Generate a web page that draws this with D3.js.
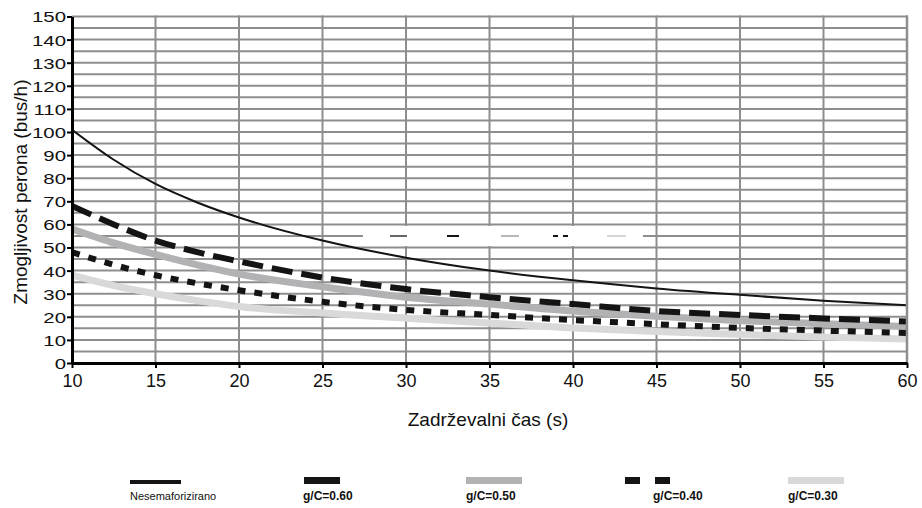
<!DOCTYPE html>
<html>
<head>
<meta charset="utf-8">
<script src="https://cdn.jsdelivr.net/npm/d3@7/dist/d3.min.js"></script>
<style>
  html, body { margin: 0; padding: 0; background: #fff; }
  svg { display: block; font-family: "Liberation Sans", Arial, sans-serif; }
</style>
</head>
<body>
<svg id="chart" width="922" height="508"></svg>
<script>
// Dwell time (s) at which capacities were read
const dwellTimes = [10, 12.5, 15, 17.5, 20, 25, 30, 35, 40, 45, 50, 55, 60];

// Bus stop capacity (bus/h) per series
const unsignalised = [101, 88, 77.5, 69.5, 63, 53, 45.6, 40, 35.8, 32.3, 29.5, 27, 25];
const gc060 = [68, 60, 53, 48, 44, 37, 32, 28.5, 25.5, 22.5, 20.8, 19.3, 18];
const gc050 = [58, 52, 47, 42.5, 38.5, 33, 28.5, 25.5, 22.5, 20.2, 18.3, 17, 15.8];
const gc040 = [48, 42.5, 38, 34.5, 31.5, 26.5, 23, 20.8, 18.6, 16.8, 15.2, 14, 13];
const gc030 = [38, 33.5, 30, 27, 24.5, 21.6, 19.4, 17.3, 15.2, 13.6, 12.3, 11.3, 10.4];

const seriesNames = ["Nesemaforizirano", "g/C=0.60", "g/C=0.50", "g/C=0.40", "g/C=0.30"];

const xTicks = [10, 15, 20, 25, 30, 35, 40, 45, 50, 55, 60];
const yTicks = [0, 10, 20, 30, 40, 50, 60, 70, 80, 90, 100, 110, 120, 130, 140, 150];

const series = [
  { name: seriesNames[4], values: gc030, color: "#d9d9da", width: 7, dash: null, legendDash: null, bold: true },
  { name: seriesNames[2], values: gc050, color: "#b2b2b4", width: 7, dash: null, legendDash: null, bold: true },
  { name: seriesNames[1], values: gc060, color: "#141414", width: 6, dash: "21,9", legendDash: null, bold: true },
  { name: seriesNames[3], values: gc040, color: "#141414", width: 6, dash: "8,9", legendDash: "15,15", bold: true },
  { name: seriesNames[0], values: unsignalised, color: "#141414", width: 2, dash: null, legendDash: null, bold: false }
];

const svg = d3.select("#chart");
const margin = { left: 72, top: 16.5, right: 907, bottom: 363 };

const x = d3.scaleLinear().domain([10, 60]).range([margin.left, margin.right]);
const y = d3.scaleLinear().domain([0, 150]).range([margin.bottom, margin.top]);

// Grid
const grid = svg.append("g").attr("stroke", "#8e8e8e").attr("stroke-width", 2);
grid.selectAll(".h").data(d3.range(5, 151, 5)).join("line")
  .attr("x1", margin.left).attr("x2", margin.right)
  .attr("y1", d => y(d)).attr("y2", d => y(d));
grid.selectAll(".v").data(xTicks.slice(1)).join("line")
  .attr("x1", d => x(d)).attr("x2", d => x(d))
  .attr("y1", margin.top - 1).attr("y2", margin.bottom);

// Small key box inside the plot
const keyBox = svg.append("g");
keyBox.append("rect").attr("x", 363).attr("y", 226).attr("width", 280).attr("height", 20).attr("fill", "#fff");
const keyOrder = [series[4], series[2], series[1], series[3], series[0]];
const keySlots = [[390, 407], [447, 459], [501, 519], [553, 568], [607, 626]];
keyOrder.forEach((s, i) => {
  const [a, b] = keySlots[i];
  keyBox.append("line")
    .attr("x1", a).attr("x2", b).attr("y1", 236).attr("y2", 236)
    .attr("stroke", s.color === "#141414" ? "#141414" : (s.color === "#b2b2b4" ? "#b8b8ba" : "#d6d6d8"))
    .attr("stroke-width", i === 0 ? 1.3 : 2)
    .attr("stroke-dasharray", s.legendDash ? "5,5" : null);
});

// Curves
svg.append("clipPath").attr("id", "plotClip").append("rect")
  .attr("x", margin.left).attr("y", margin.top).attr("width", margin.right - margin.left).attr("height", margin.bottom - margin.top);

const line = d3.line()
  .x((d, i) => x(dwellTimes[i]))
  .y(d => y(d))
  .curve(d3.curveMonotoneX);

svg.append("g").attr("clip-path", "url(#plotClip)")
  .selectAll("path").data(series).join("path")
  .attr("d", d => line(d.values))
  .attr("fill", "none")
  .attr("stroke", d => d.color)
  .attr("stroke-width", d => d.width)
  .attr("stroke-dasharray", d => d.dash);

// Right border
svg.append("line").attr("x1", margin.right).attr("x2", margin.right)
  .attr("y1", margin.top - 1).attr("y2", margin.bottom)
  .attr("stroke", "#8e8e8e").attr("stroke-width", 2.5);

// Axes
const yAxis = svg.append("g").attr("transform", `translate(${margin.left},0)`)
  .call(d3.axisLeft(y).tickValues(yTicks).tickSize(5).tickSizeOuter(0));
yAxis.select(".domain").attr("stroke", "#000").attr("stroke-width", 3);
yAxis.selectAll(".tick line").attr("stroke", "#000").attr("stroke-width", 2);
yAxis.selectAll(".tick text")
  .attr("x", -4.4).attr("dy", "0.36em")
  .attr("transform", "scale(1.36,1)")
  .attr("font-size", 15).attr("fill", "#111");

const xAxis = svg.append("g").attr("transform", `translate(0,${margin.bottom})`)
  .call(d3.axisBottom(x).tickValues(xTicks).tickSize(5).tickSizeOuter(0));
xAxis.select(".domain").attr("stroke", "#000").attr("stroke-width", 3);
xAxis.selectAll(".tick line").attr("stroke", "#000").attr("stroke-width", 2);
xAxis.selectAll(".tick text").attr("y", 11).attr("font-size", 18).attr("fill", "#111");

// Axis titles
svg.append("text").attr("x", 488).attr("y", 426).attr("text-anchor", "middle")
  .attr("font-size", 19).attr("fill", "#111").text("Zadrževalni čas (s)");
svg.append("text").attr("transform", "translate(27,192) rotate(-90)").attr("text-anchor", "middle")
  .attr("font-size", 19).attr("fill", "#111").text("Zmogljivost perona (bus/h)");

// Legend
const legendItems = [
  { s: series[4], sx: [130, 181], tx: 130, w: 4 },
  { s: series[2], sx: [304, 340], tx: 303, w: 7 },
  { s: series[1], sx: [466, 522], tx: 466, w: 7 },
  { s: series[3], sx: [625, 670], tx: 653, w: 7 },
  { s: series[0], sx: [788, 844], tx: 788, w: 7 }
];
const legend = svg.append("g");
legendItems.forEach(item => {
  legend.append("line")
    .attr("x1", item.sx[0]).attr("x2", item.sx[1])
    .attr("y1", item.w === 4 ? 482 : 480.5).attr("y2", item.w === 4 ? 482 : 480.5)
    .attr("stroke", item.s.color).attr("stroke-width", item.w)
    .attr("stroke-dasharray", item.s.legendDash);
  legend.append("text")
    .attr("x", item.tx).attr("y", 500)
    .attr("font-size", item.s.bold ? 12 : 11)
    .attr("font-weight", item.s.bold ? "bold" : "normal")
    .attr("fill", "#111")
    .text(item.s.name);
});
</script>
</body>
</html>
